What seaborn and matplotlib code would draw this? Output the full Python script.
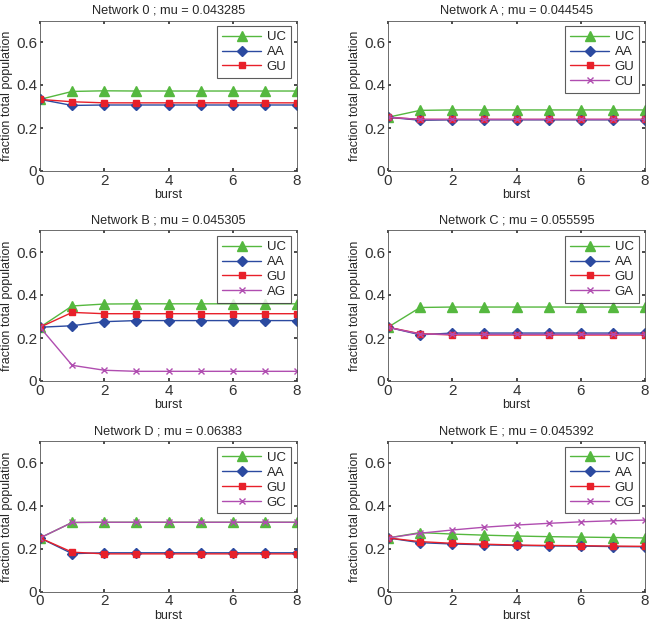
import numpy as np
import pandas as pd
import matplotlib
matplotlib.use("Agg")
import matplotlib.pyplot as plt
import seaborn as sns

bursts = [0, 1, 2, 3, 4, 5, 6, 7, 8]

titles = ["Network 0 ; mu = 0.043285", "Network A ; mu = 0.044545",
          "Network B ; mu = 0.045305", "Network C ; mu = 0.055595",
          "Network D ; mu = 0.06383", "Network E ; mu = 0.045392"]

fourth_names = [None, "CU", "AG", "GA", "GC", "CG"]

uc = [
    [0.333, 0.370, 0.373, 0.372, 0.372, 0.372, 0.372, 0.372, 0.372],
    [0.250, 0.282, 0.284, 0.284, 0.284, 0.284, 0.284, 0.284, 0.284],
    [0.250, 0.349, 0.358, 0.359, 0.359, 0.359, 0.359, 0.359, 0.359],
    [0.250, 0.342, 0.344, 0.344, 0.344, 0.344, 0.344, 0.344, 0.344],
    [0.250, 0.322, 0.323, 0.323, 0.323, 0.323, 0.323, 0.323, 0.323],
    [0.250, 0.275, 0.268, 0.263, 0.259, 0.256, 0.254, 0.252, 0.250],
]
aa = [
    [0.333, 0.305, 0.307, 0.307, 0.307, 0.307, 0.307, 0.307, 0.307],
    [0.250, 0.236, 0.238, 0.238, 0.238, 0.238, 0.238, 0.238, 0.238],
    [0.250, 0.257, 0.276, 0.281, 0.281, 0.281, 0.281, 0.281, 0.281],
    [0.250, 0.215, 0.223, 0.223, 0.223, 0.223, 0.223, 0.223, 0.223],
    [0.250, 0.177, 0.181, 0.181, 0.181, 0.181, 0.181, 0.181, 0.181],
    [0.250, 0.228, 0.222, 0.218, 0.215, 0.213, 0.212, 0.210, 0.209],
]
gu = [
    [0.333, 0.322, 0.317, 0.317, 0.317, 0.317, 0.317, 0.317, 0.317],
    [0.250, 0.240, 0.240, 0.240, 0.240, 0.240, 0.240, 0.240, 0.240],
    [0.250, 0.319, 0.313, 0.313, 0.313, 0.313, 0.313, 0.313, 0.313],
    [0.250, 0.220, 0.214, 0.214, 0.214, 0.214, 0.214, 0.214, 0.214],
    [0.250, 0.184, 0.176, 0.176, 0.176, 0.176, 0.176, 0.176, 0.176],
    [0.250, 0.233, 0.225, 0.221, 0.217, 0.215, 0.214, 0.212, 0.211],
]
fourth = [
    None,
    [0.250, 0.240, 0.240, 0.240, 0.240, 0.240, 0.240, 0.240, 0.240],
    [0.250, 0.073, 0.050, 0.045, 0.045, 0.045, 0.045, 0.045, 0.045],
    [0.250, 0.218, 0.217, 0.217, 0.217, 0.217, 0.217, 0.217, 0.217],
    [0.250, 0.322, 0.323, 0.323, 0.323, 0.323, 0.323, 0.323, 0.323],
    [0.250, 0.272, 0.287, 0.300, 0.310, 0.318, 0.325, 0.330, 0.333],
]

sns.set_theme(style="white")
plt.rcParams['font.family'] = ['Liberation Sans', 'DejaVu Sans']

col_green = "#55b83f"
col_blue = "#2b4aa0"
col_red = "#e8202a"
col_purple = "#b04db0"

fig = plt.figure(figsize=(6.52, 6.24), dpi=100)
lefts = [40 / 652, 388 / 652]
width = 257 / 652
bottoms = [1 - 171 / 624, 1 - 381 / 624, 1 - 591.7 / 624]
height = 150.5 / 624

for i in range(6):
    r, c = divmod(i, 2)
    ax = fig.add_axes([lefts[c], bottoms[r], width, height])
    names = ["UC", "AA", "GU"]
    series = [uc[i], aa[i], gu[i]]
    pal = [col_green, col_blue, col_red]
    mk = ["^", "D", "s"]
    if fourth[i] is not None:
        names.append(fourth_names[i])
        series.append(fourth[i])
        pal.append(col_purple)
        mk.append("x")
    for n, s, col, m in zip(names, series, pal, mk):
        ms = {"x": 4, "D": 5, "s": 5, "^": 6.5}[m]
        sns.lineplot(x=bursts, y=s, color=col, marker=m, markersize=ms,
                     markeredgecolor=col, markerfacecolor=col,
                     markeredgewidth=1.0, linewidth=1.0, label=n, ax=ax)
    ax.set_xlim(0, 8)
    ax.set_ylim(0, 0.7)
    ax.set_xticks([0, 2, 4, 6, 8])
    ax.set_yticks([0, 0.2, 0.4, 0.6])
    ax.set_yticklabels(["0", "0.2", "0.4", "0.6"])
    ax.tick_params(axis="both", labelsize=11, direction="in", length=2.5,
                   pad=2, left=True, bottom=True, top=True, right=True,
                   colors="#333333")
    for sp in ax.spines.values():
        sp.set_color("#555555")
        sp.set_linewidth(0.6)
    ax.set_xlabel("burst", fontsize=9, labelpad=1)
    ax.set_ylabel("fraction total population", fontsize=9, labelpad=2)
    ax.set_title(titles[i], fontsize=9.2, pad=5)
    leg = ax.legend(loc="upper right", fontsize=9.5, frameon=True, fancybox=False,
                    borderpad=0.35, labelspacing=0.2, handlelength=3.0,
                    handletextpad=0.4, borderaxespad=0.45)
    leg.get_frame().set_edgecolor("#333333")
    leg.get_frame().set_linewidth(0.8)

fig.savefig("out.png", dpi=100)
